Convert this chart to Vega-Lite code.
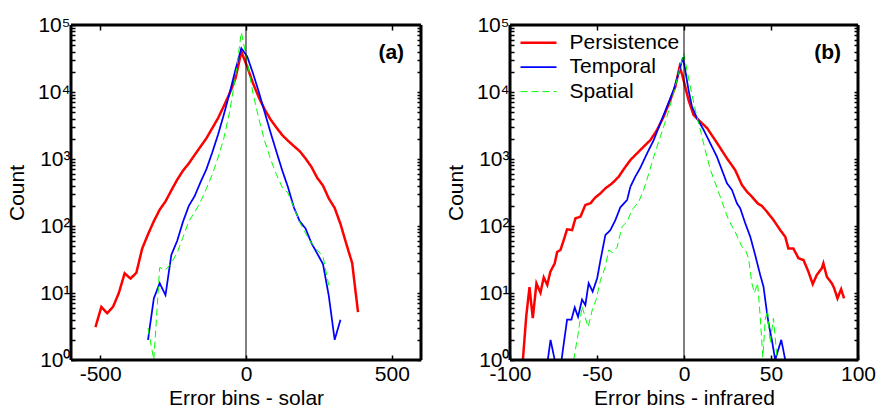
{
  "$schema": "https://vega.github.io/schema/vega-lite/v6.json",
  "background": "white",
  "padding": {"left": 6, "top": 14, "right": 5, "bottom": 5},
  "spacing": 22,
  "config": {
    "font": "Liberation Sans",
    "view": {"stroke": null},
    "axis": {
      "labelFont": "Liberation Sans", "labelFontSize": 21, "labelColor": "black",
      "titleFont": "Liberation Sans", "titleFontSize": 21, "titleFontWeight": "normal", "titleColor": "black",
      "grid": false, "tickColor": "black", "tickWidth": 1.5, "ticks": true, "zindex": 1,
      "domain": false,
      "labelOverlap": false, "labelBound": false, "labelFlush": false
    },
    "legend": {"labelFont": "Liberation Sans", "labelColor": "black"}
  },
  "resolve": {"legend": {"color": "independent", "strokeWidth": "independent", "strokeDash": "independent"}},
  "datasets": {
    "a": [
      {"series": "Persistence", "x": -516, "count": 3.1},
      {"series": "Persistence", "x": -496, "count": 6.2},
      {"series": "Persistence", "x": -476, "count": 5.0},
      {"series": "Persistence", "x": -456, "count": 6.2},
      {"series": "Persistence", "x": -436, "count": 10},
      {"series": "Persistence", "x": -416, "count": 19.7},
      {"series": "Persistence", "x": -396, "count": 16.4},
      {"series": "Persistence", "x": -376, "count": 20},
      {"series": "Persistence", "x": -356, "count": 46},
      {"series": "Persistence", "x": -336, "count": 75},
      {"series": "Persistence", "x": -316, "count": 118},
      {"series": "Persistence", "x": -296, "count": 175},
      {"series": "Persistence", "x": -276, "count": 233},
      {"series": "Persistence", "x": -256, "count": 340},
      {"series": "Persistence", "x": -236, "count": 490},
      {"series": "Persistence", "x": -216, "count": 670},
      {"series": "Persistence", "x": -196, "count": 860},
      {"series": "Persistence", "x": -176, "count": 1150},
      {"series": "Persistence", "x": -156, "count": 1530},
      {"series": "Persistence", "x": -136, "count": 2030},
      {"series": "Persistence", "x": -116, "count": 2870},
      {"series": "Persistence", "x": -96, "count": 4050},
      {"series": "Persistence", "x": -76, "count": 6170},
      {"series": "Persistence", "x": -56, "count": 9550},
      {"series": "Persistence", "x": -36, "count": 16000},
      {"series": "Persistence", "x": -16, "count": 40000},
      {"series": "Persistence", "x": 4, "count": 24000},
      {"series": "Persistence", "x": 24, "count": 13500},
      {"series": "Persistence", "x": 44, "count": 8300},
      {"series": "Persistence", "x": 64, "count": 5500},
      {"series": "Persistence", "x": 84, "count": 3900},
      {"series": "Persistence", "x": 104, "count": 2960},
      {"series": "Persistence", "x": 124, "count": 2280},
      {"series": "Persistence", "x": 144, "count": 1870},
      {"series": "Persistence", "x": 164, "count": 1560},
      {"series": "Persistence", "x": 184, "count": 1310},
      {"series": "Persistence", "x": 204, "count": 1020},
      {"series": "Persistence", "x": 224, "count": 767},
      {"series": "Persistence", "x": 244, "count": 525},
      {"series": "Persistence", "x": 264, "count": 400},
      {"series": "Persistence", "x": 284, "count": 257},
      {"series": "Persistence", "x": 304, "count": 186},
      {"series": "Persistence", "x": 324, "count": 107},
      {"series": "Persistence", "x": 344, "count": 54},
      {"series": "Persistence", "x": 364, "count": 28},
      {"series": "Persistence", "x": 384, "count": 5.2},
      {"series": "Temporal", "x": -336, "count": 2.0},
      {"series": "Temporal", "x": -316, "count": 8.3},
      {"series": "Temporal", "x": -296, "count": 14},
      {"series": "Temporal", "x": -276, "count": 9.3},
      {"series": "Temporal", "x": -256, "count": 37},
      {"series": "Temporal", "x": -236, "count": 60},
      {"series": "Temporal", "x": -216, "count": 116},
      {"series": "Temporal", "x": -196, "count": 200},
      {"series": "Temporal", "x": -176, "count": 280},
      {"series": "Temporal", "x": -156, "count": 450},
      {"series": "Temporal", "x": -136, "count": 700},
      {"series": "Temporal", "x": -116, "count": 1240},
      {"series": "Temporal", "x": -96, "count": 2300},
      {"series": "Temporal", "x": -76, "count": 4600},
      {"series": "Temporal", "x": -56, "count": 9700},
      {"series": "Temporal", "x": -36, "count": 21600},
      {"series": "Temporal", "x": -16, "count": 45000},
      {"series": "Temporal", "x": 4, "count": 34000},
      {"series": "Temporal", "x": 24, "count": 19000},
      {"series": "Temporal", "x": 44, "count": 10000},
      {"series": "Temporal", "x": 64, "count": 5000},
      {"series": "Temporal", "x": 84, "count": 2500},
      {"series": "Temporal", "x": 104, "count": 1300},
      {"series": "Temporal", "x": 124, "count": 680},
      {"series": "Temporal", "x": 144, "count": 380},
      {"series": "Temporal", "x": 164, "count": 190},
      {"series": "Temporal", "x": 184, "count": 118},
      {"series": "Temporal", "x": 204, "count": 92},
      {"series": "Temporal", "x": 224, "count": 56},
      {"series": "Temporal", "x": 244, "count": 39},
      {"series": "Temporal", "x": 264, "count": 27},
      {"series": "Temporal", "x": 284, "count": 9},
      {"series": "Temporal", "x": 304, "count": 2.0},
      {"series": "Temporal", "x": 324, "count": 4.0},
      {"series": "Spatial", "x": -336, "count": 3.0},
      {"series": "Spatial", "x": -316, "count": 1},
      {"series": "Spatial", "x": -296, "count": 24},
      {"series": "Spatial", "x": -276, "count": 22},
      {"series": "Spatial", "x": -256, "count": 28},
      {"series": "Spatial", "x": -236, "count": 40},
      {"series": "Spatial", "x": -216, "count": 68},
      {"series": "Spatial", "x": -196, "count": 118},
      {"series": "Spatial", "x": -176, "count": 160},
      {"series": "Spatial", "x": -156, "count": 230},
      {"series": "Spatial", "x": -136, "count": 360},
      {"series": "Spatial", "x": -116, "count": 580},
      {"series": "Spatial", "x": -96, "count": 1040},
      {"series": "Spatial", "x": -76, "count": 2040},
      {"series": "Spatial", "x": -56, "count": 5100},
      {"series": "Spatial", "x": -36, "count": 17000},
      {"series": "Spatial", "x": -16, "count": 78000},
      {"series": "Spatial", "x": 4, "count": 29000},
      {"series": "Spatial", "x": 24, "count": 9500},
      {"series": "Spatial", "x": 44, "count": 4000},
      {"series": "Spatial", "x": 64, "count": 1860},
      {"series": "Spatial", "x": 84, "count": 1000},
      {"series": "Spatial", "x": 104, "count": 590},
      {"series": "Spatial", "x": 124, "count": 380},
      {"series": "Spatial", "x": 144, "count": 310},
      {"series": "Spatial", "x": 164, "count": 190},
      {"series": "Spatial", "x": 184, "count": 115},
      {"series": "Spatial", "x": 204, "count": 78},
      {"series": "Spatial", "x": 224, "count": 56},
      {"series": "Spatial", "x": 244, "count": 44},
      {"series": "Spatial", "x": 264, "count": 35},
      {"series": "Spatial", "x": 284, "count": 13}
    ],
    "b": [
      {"series": "Persistence", "x": -92.6, "count": 1},
      {"series": "Persistence", "x": -90.7, "count": 4.4},
      {"series": "Persistence", "x": -88.8, "count": 12.2},
      {"series": "Persistence", "x": -86.9, "count": 4.2},
      {"series": "Persistence", "x": -84.8, "count": 13.9},
      {"series": "Persistence", "x": -82.5, "count": 10.1},
      {"series": "Persistence", "x": -80.6, "count": 17.1},
      {"series": "Persistence", "x": -78.6, "count": 13.2},
      {"series": "Persistence", "x": -76.8, "count": 20.8},
      {"series": "Persistence", "x": -74.3, "count": 27.7},
      {"series": "Persistence", "x": -72.9, "count": 41},
      {"series": "Persistence", "x": -71, "count": 43.8},
      {"series": "Persistence", "x": -69.1, "count": 62},
      {"series": "Persistence", "x": -67.2, "count": 89},
      {"series": "Persistence", "x": -64.3, "count": 87},
      {"series": "Persistence", "x": -62.4, "count": 130},
      {"series": "Persistence", "x": -59.5, "count": 138},
      {"series": "Persistence", "x": -56.7, "count": 206},
      {"series": "Persistence", "x": -53.8, "count": 218},
      {"series": "Persistence", "x": -50.9, "count": 268},
      {"series": "Persistence", "x": -48, "count": 307},
      {"series": "Persistence", "x": -45.2, "count": 365},
      {"series": "Persistence", "x": -41.3, "count": 433},
      {"series": "Persistence", "x": -37.5, "count": 545},
      {"series": "Persistence", "x": -34.7, "count": 700},
      {"series": "Persistence", "x": -30.8, "count": 966},
      {"series": "Persistence", "x": -25.1, "count": 1362},
      {"series": "Persistence", "x": -19.3, "count": 1920},
      {"series": "Persistence", "x": -15.5, "count": 2710},
      {"series": "Persistence", "x": -11.7, "count": 4290},
      {"series": "Persistence", "x": -7.9, "count": 7590},
      {"series": "Persistence", "x": -5, "count": 12000},
      {"series": "Persistence", "x": -2.5, "count": 23900},
      {"series": "Persistence", "x": -1, "count": 17900},
      {"series": "Persistence", "x": 0.7, "count": 12000},
      {"series": "Persistence", "x": 2.6, "count": 7600},
      {"series": "Persistence", "x": 5.5, "count": 4540},
      {"series": "Persistence", "x": 9.4, "count": 3600},
      {"series": "Persistence", "x": 13.3, "count": 2890},
      {"series": "Persistence", "x": 19, "count": 1730},
      {"series": "Persistence", "x": 24.7, "count": 1020},
      {"series": "Persistence", "x": 29.4, "count": 685},
      {"series": "Persistence", "x": 33.3, "count": 409},
      {"series": "Persistence", "x": 36.2, "count": 325},
      {"series": "Persistence", "x": 39, "count": 274},
      {"series": "Persistence", "x": 42.3, "count": 218},
      {"series": "Persistence", "x": 44.8, "count": 199},
      {"series": "Persistence", "x": 47.6, "count": 164},
      {"series": "Persistence", "x": 51.4, "count": 123},
      {"series": "Persistence", "x": 55.3, "count": 87},
      {"series": "Persistence", "x": 58.2, "count": 69},
      {"series": "Persistence", "x": 60, "count": 46},
      {"series": "Persistence", "x": 62.9, "count": 46},
      {"series": "Persistence", "x": 65.8, "count": 33},
      {"series": "Persistence", "x": 68.7, "count": 31},
      {"series": "Persistence", "x": 71.5, "count": 20.8},
      {"series": "Persistence", "x": 74, "count": 13.6},
      {"series": "Persistence", "x": 76.3, "count": 18.6},
      {"series": "Persistence", "x": 79.2, "count": 23.4},
      {"series": "Persistence", "x": 80.1, "count": 27.7},
      {"series": "Persistence", "x": 82.1, "count": 17.5},
      {"series": "Persistence", "x": 85, "count": 13.9},
      {"series": "Persistence", "x": 86.3, "count": 11.8},
      {"series": "Persistence", "x": 88.2, "count": 8.3},
      {"series": "Persistence", "x": 90.3, "count": 11.4},
      {"series": "Persistence", "x": 92, "count": 8.3},
      {"series": "Temporal", "x": -78.3, "count": 1},
      {"series": "Temporal", "x": -76.7, "count": 2},
      {"series": "Temporal", "x": -74.3, "count": 1},
      {"series": "Temporal", "x": -70.4, "count": 1},
      {"series": "Temporal", "x": -67.2, "count": 4},
      {"series": "Temporal", "x": -64.7, "count": 4},
      {"series": "Temporal", "x": -62.8, "count": 6.1},
      {"series": "Temporal", "x": -60.9, "count": 4.4},
      {"series": "Temporal", "x": -58.6, "count": 8},
      {"series": "Temporal", "x": -56.7, "count": 6.6},
      {"series": "Temporal", "x": -54.8, "count": 14},
      {"series": "Temporal", "x": -52.5, "count": 10.5},
      {"series": "Temporal", "x": -49.9, "count": 16.6},
      {"series": "Temporal", "x": -48, "count": 31},
      {"series": "Temporal", "x": -45.2, "count": 73},
      {"series": "Temporal", "x": -42.3, "count": 87},
      {"series": "Temporal", "x": -39.4, "count": 123},
      {"series": "Temporal", "x": -36.6, "count": 190},
      {"series": "Temporal", "x": -32.7, "count": 244},
      {"series": "Temporal", "x": -30.8, "count": 386},
      {"series": "Temporal", "x": -28, "count": 545},
      {"series": "Temporal", "x": -25.1, "count": 740},
      {"series": "Temporal", "x": -21.2, "count": 1216},
      {"series": "Temporal", "x": -17.4, "count": 1920},
      {"series": "Temporal", "x": -13.6, "count": 3410},
      {"series": "Temporal", "x": -9.8, "count": 6030},
      {"series": "Temporal", "x": -6, "count": 10700},
      {"series": "Temporal", "x": -3.1, "count": 19000},
      {"series": "Temporal", "x": -0.6, "count": 32900},
      {"series": "Temporal", "x": 0.7, "count": 21300},
      {"series": "Temporal", "x": 2.6, "count": 10700},
      {"series": "Temporal", "x": 4.6, "count": 6030},
      {"series": "Temporal", "x": 7.5, "count": 4050},
      {"series": "Temporal", "x": 11.3, "count": 2710},
      {"series": "Temporal", "x": 15.1, "count": 1715},
      {"series": "Temporal", "x": 18.9, "count": 1083},
      {"series": "Temporal", "x": 21.8, "count": 685},
      {"series": "Temporal", "x": 24.7, "count": 434},
      {"series": "Temporal", "x": 27.6, "count": 344},
      {"series": "Temporal", "x": 30.4, "count": 218},
      {"series": "Temporal", "x": 32.3, "count": 184},
      {"series": "Temporal", "x": 35.2, "count": 110},
      {"series": "Temporal", "x": 38.1, "count": 69},
      {"series": "Temporal", "x": 40.9, "count": 37},
      {"series": "Temporal", "x": 43.8, "count": 18.6},
      {"series": "Temporal", "x": 45.7, "count": 12.4},
      {"series": "Temporal", "x": 47.2, "count": 6.3},
      {"series": "Temporal", "x": 48.6, "count": 3.5},
      {"series": "Temporal", "x": 50.5, "count": 2},
      {"series": "Temporal", "x": 52.4, "count": 1},
      {"series": "Temporal", "x": 55.9, "count": 2},
      {"series": "Temporal", "x": 58.2, "count": 1},
      {"series": "Spatial", "x": -63.4, "count": 1},
      {"series": "Spatial", "x": -60.5, "count": 2.8},
      {"series": "Spatial", "x": -58.6, "count": 6.3},
      {"series": "Spatial", "x": -55.1, "count": 3.1},
      {"series": "Spatial", "x": -52.5, "count": 5.9},
      {"series": "Spatial", "x": -50.5, "count": 7.9},
      {"series": "Spatial", "x": -48, "count": 15.6},
      {"series": "Spatial", "x": -45.2, "count": 24.7},
      {"series": "Spatial", "x": -43.3, "count": 43.8},
      {"series": "Spatial", "x": -41, "count": 40},
      {"series": "Spatial", "x": -38.5, "count": 48},
      {"series": "Spatial", "x": -35.6, "count": 98},
      {"series": "Spatial", "x": -32.7, "count": 116},
      {"series": "Spatial", "x": -29.9, "count": 173},
      {"series": "Spatial", "x": -26, "count": 231},
      {"series": "Spatial", "x": -23.2, "count": 344},
      {"series": "Spatial", "x": -20.3, "count": 600},
      {"series": "Spatial", "x": -17.4, "count": 1083},
      {"series": "Spatial", "x": -13.6, "count": 2150},
      {"series": "Spatial", "x": -9.8, "count": 4290},
      {"series": "Spatial", "x": -6, "count": 9550},
      {"series": "Spatial", "x": -3.1, "count": 19000},
      {"series": "Spatial", "x": -0.2, "count": 38000},
      {"series": "Spatial", "x": 1.7, "count": 21300},
      {"series": "Spatial", "x": 4, "count": 10700},
      {"series": "Spatial", "x": 6.5, "count": 5400},
      {"series": "Spatial", "x": 9.4, "count": 2710},
      {"series": "Spatial", "x": 12.2, "count": 1360},
      {"series": "Spatial", "x": 15.1, "count": 700},
      {"series": "Spatial", "x": 20.8, "count": 274},
      {"series": "Spatial", "x": 25.6, "count": 123},
      {"series": "Spatial", "x": 29.4, "count": 82},
      {"series": "Spatial", "x": 33.3, "count": 49},
      {"series": "Spatial", "x": 35.2, "count": 44},
      {"series": "Spatial", "x": 37.1, "count": 33},
      {"series": "Spatial", "x": 39, "count": 14},
      {"series": "Spatial", "x": 40.5, "count": 10},
      {"series": "Spatial", "x": 42.3, "count": 14},
      {"series": "Spatial", "x": 43.8, "count": 4.4},
      {"series": "Spatial", "x": 45.3, "count": 1.1},
      {"series": "Spatial", "x": 46.7, "count": 4},
      {"series": "Spatial", "x": 48, "count": 5.6},
      {"series": "Spatial", "x": 49.5, "count": 1.8},
      {"series": "Spatial", "x": 51.4, "count": 4.2},
      {"series": "Spatial", "x": 52.4, "count": 2.2},
      {"series": "Spatial", "x": 53.5, "count": 1}
    ]
  },
  "hconcat": [
    {
      "width": 350,
      "height": 335,
      "layer": [
        {
          "data": {"name": "a"},
          "mark": {"type": "line", "clip": true},
          "encoding": {
            "x": {"field": "x", "type": "quantitative",
              "scale": {"domain": [-600, 600], "nice": false, "zero": false},
              "axis": {"orient": "bottom", "values": [-500, 0, 500], "tickSize": -5, "labelPadding": 8,
                "labelExpr": "datum.value < 0 ? '-' + abs(datum.value) : '' + datum.value",
                "title": "Error bins - solar", "titleX": 175, "titleY": 44.5, "titleAlign": "center", "titleBaseline": "alphabetic"}},
            "y": {"field": "count", "type": "quantitative",
              "scale": {"type": "log", "domain": [1, 100000], "nice": false},
              "axis": {"orient": "left",
                "values": [1,2,3,4,5,6,7,8,9,10,20,30,40,50,60,70,80,90,100,200,300,400,500,600,700,800,900,1000,2000,3000,4000,5000,6000,7000,8000,9000,10000,20000,30000,40000,50000,60000,70000,80000,90000,100000],
                "labelExpr": "abs(log(datum.value)/LN10 - round(log(datum.value)/LN10)) < 0.001 ? '10' + ['⁰','¹','²','³','⁴','⁵'][round(log(datum.value)/LN10)] : ''",
                "tickSize": -4,
                "labelPadding": 5,
                "title": "Count", "titleX": -53.5, "titleY": 167.5, "titleAngle": -90, "titleAlign": "center", "titleBaseline": "middle"}},
            "color": {"field": "series", "type": "nominal",
              "scale": {"domain": ["Persistence", "Temporal", "Spatial"], "range": ["#ff0000", "#0000ff", "#00ff00"]}, "legend": null},
            "strokeWidth": {"field": "series", "type": "ordinal",
              "scale": {"domain": ["Persistence", "Temporal", "Spatial"], "range": [2.5, 1, 1.3]}, "legend": null},
            "strokeDash": {"field": "series", "type": "nominal",
              "scale": {"domain": ["Persistence", "Temporal", "Spatial"], "range": [[1, 0], [1, 0], [7, 4]]}, "legend": null}
          }
        },
        {
          "data": {"values": [{}]},
          "mark": {"type": "rule", "color": "black", "strokeWidth": 1},
          "encoding": {
            "x": {"datum": 0, "type": "quantitative",
              "axis": {"orient": "top", "values": [-500, 0, 500], "tickSize": -5, "labels": false, "title": null}},
            "y": {"datum": 1, "type": "quantitative",
              "axis": {"orient": "right",
                "values": [1,2,3,4,5,6,7,8,9,10,20,30,40,50,60,70,80,90,100,200,300,400,500,600,700,800,900,1000,2000,3000,4000,5000,6000,7000,8000,9000,10000,20000,30000,40000,50000,60000,70000,80000,90000,100000],
                "tickSize": -4, "labels": false, "title": null}},
            "y2": {"datum": 100000}
          }
        },
        {"data": {"values": [{}]}, "mark": {"type": "rule", "color": "black", "strokeWidth": 3},
         "encoding": {"x": {"datum": -600, "type": "quantitative", "axis": null}}},
        {"data": {"values": [{}]}, "mark": {"type": "rule", "color": "black", "strokeWidth": 3},
         "encoding": {"x": {"datum": 600, "type": "quantitative", "axis": null}}},
        {"data": {"values": [{}]}, "mark": {"type": "rule", "color": "black", "strokeWidth": 3},
         "encoding": {"y": {"datum": 1, "type": "quantitative", "axis": null}}},
        {"data": {"values": [{}]}, "mark": {"type": "rule", "color": "black", "strokeWidth": 3},
         "encoding": {"y": {"datum": 100000, "type": "quantitative", "axis": null}}},
        {
          "data": {"values": [{}]},
          "mark": {"type": "text", "text": "(a)", "font": "Liberation Sans", "fontWeight": "bold", "fontSize": 21, "align": "center", "baseline": "middle", "color": "black"},
          "encoding": {
            "x": {"datum": 498, "type": "quantitative", "axis": null},
            "y": {"datum": 38000, "type": "quantitative", "axis": null}
          }
        }
      ],
      "resolve": {"axis": {"x": "independent", "y": "independent"}}
    },
    {
      "width": 348,
      "height": 335,
      "layer": [
        {
          "data": {"name": "b"},
          "mark": {"type": "line", "clip": true},
          "encoding": {
            "x": {"field": "x", "type": "quantitative",
              "scale": {"domain": [-100, 100], "nice": false, "zero": false},
              "axis": {"orient": "bottom", "values": [-100, -50, 0, 50, 100], "tickSize": -5, "labelPadding": 8,
                "labelExpr": "datum.value < 0 ? '-' + abs(datum.value) : '' + datum.value",
                "title": "Error bins - infrared", "titleX": 174, "titleY": 44.5, "titleAlign": "center", "titleBaseline": "alphabetic"}},
            "y": {"field": "count", "type": "quantitative",
              "scale": {"type": "log", "domain": [1, 100000], "nice": false},
              "axis": {"orient": "left",
                "values": [1,2,3,4,5,6,7,8,9,10,20,30,40,50,60,70,80,90,100,200,300,400,500,600,700,800,900,1000,2000,3000,4000,5000,6000,7000,8000,9000,10000,20000,30000,40000,50000,60000,70000,80000,90000,100000],
                "labelExpr": "abs(log(datum.value)/LN10 - round(log(datum.value)/LN10)) < 0.001 ? '10' + ['⁰','¹','²','³','⁴','⁵'][round(log(datum.value)/LN10)] : ''",
                "tickSize": -4,
                "labelPadding": 5,
                "title": "Count", "titleX": -53.5, "titleY": 167.5, "titleAngle": -90, "titleAlign": "center", "titleBaseline": "middle"}},
            "color": {"field": "series", "type": "nominal",
              "scale": {"domain": ["Persistence", "Temporal", "Spatial"], "range": ["#ff0000", "#0000ff", "#00ff00"]},
              "legend": {"title": null, "orient": "none", "legendX": 18, "legendY": 7.3, "padding": 0, "symbolType": "M-3,0H3", "symbolSize": 144, "labelFontSize": 21, "labelOffset": 20.5, "rowPadding": 2.4}},
            "strokeWidth": {"field": "series", "type": "ordinal",
              "scale": {"domain": ["Persistence", "Temporal", "Spatial"], "range": [2.5, 1, 1.3]},
              "legend": {"title": null, "orient": "none", "legendX": 18, "legendY": 7.3, "padding": 0, "symbolType": "M-3,0H3", "symbolSize": 144, "labelFontSize": 21, "labelOffset": 20.5, "rowPadding": 2.4}},
            "strokeDash": {"field": "series", "type": "nominal",
              "scale": {"domain": ["Persistence", "Temporal", "Spatial"], "range": [[1, 0], [1, 0], [7, 4]]},
              "legend": {"title": null, "orient": "none", "legendX": 18, "legendY": 7.3, "padding": 0, "symbolType": "M-3,0H3", "symbolSize": 144, "labelFontSize": 21, "labelOffset": 20.5, "rowPadding": 2.4}}
          }
        },
        {
          "data": {"values": [{}]},
          "mark": {"type": "rule", "color": "black", "strokeWidth": 1},
          "encoding": {
            "x": {"datum": 0, "type": "quantitative",
              "axis": {"orient": "top", "values": [-100, -50, 0, 50, 100], "tickSize": -5, "labels": false, "title": null}},
            "y": {"datum": 1, "type": "quantitative",
              "axis": {"orient": "right",
                "values": [1,2,3,4,5,6,7,8,9,10,20,30,40,50,60,70,80,90,100,200,300,400,500,600,700,800,900,1000,2000,3000,4000,5000,6000,7000,8000,9000,10000,20000,30000,40000,50000,60000,70000,80000,90000,100000],
                "tickSize": -4, "labels": false, "title": null}},
            "y2": {"datum": 100000}
          }
        },
        {"data": {"values": [{}]}, "mark": {"type": "rule", "color": "black", "strokeWidth": 3},
         "encoding": {"x": {"datum": -100, "type": "quantitative", "axis": null}}},
        {"data": {"values": [{}]}, "mark": {"type": "rule", "color": "black", "strokeWidth": 3},
         "encoding": {"x": {"datum": 100, "type": "quantitative", "axis": null}}},
        {"data": {"values": [{}]}, "mark": {"type": "rule", "color": "black", "strokeWidth": 3},
         "encoding": {"y": {"datum": 1, "type": "quantitative", "axis": null}}},
        {"data": {"values": [{}]}, "mark": {"type": "rule", "color": "black", "strokeWidth": 3},
         "encoding": {"y": {"datum": 100000, "type": "quantitative", "axis": null}}},
        {
          "data": {"values": [{}]},
          "mark": {"type": "text", "text": "(b)", "font": "Liberation Sans", "fontWeight": "bold", "fontSize": 21, "align": "center", "baseline": "middle", "color": "black"},
          "encoding": {
            "x": {"datum": 82.5, "type": "quantitative", "axis": null},
            "y": {"datum": 38000, "type": "quantitative", "axis": null}
          }
        }
      ],
      "resolve": {"axis": {"x": "independent", "y": "independent"}}
    }
  ]
}
